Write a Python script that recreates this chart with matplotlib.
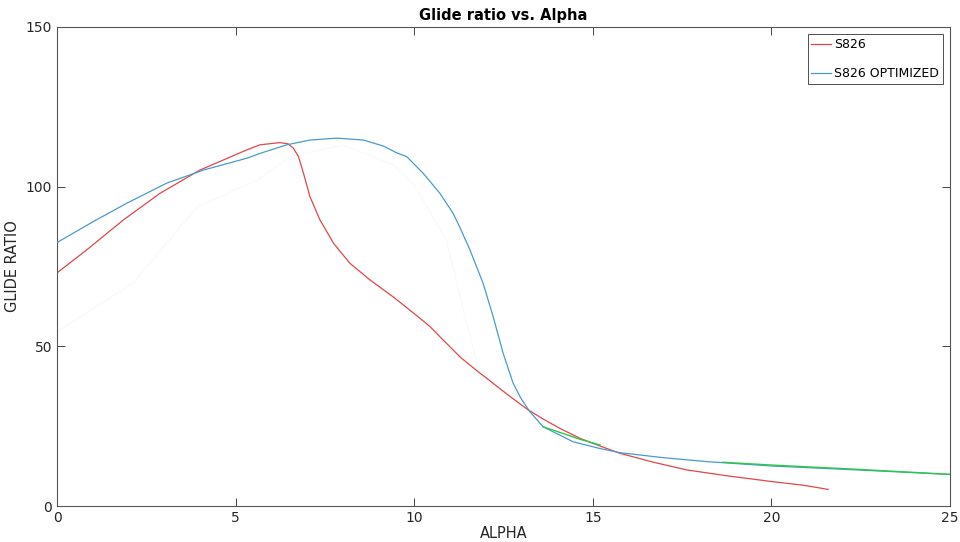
import matplotlib.pyplot as plt
import numpy as np

# S826 glide ratio vs angle of attack
alpha_s826 = [0, 0.83, 1.86, 2.88, 4.0, 5.31, 5.68, 6.24, 6.47, 6.62, 6.76, 6.9, 7.08, 7.36,
              7.74, 8.2, 8.76, 9.41, 10.16, 10.44, 10.72, 11.3, 11.84, 12.03, 12.6, 13.19,
              13.6, 14.08, 14.64, 15.2, 15.76, 16.7, 17.63, 18.8, 20.05, 20.9, 21.59]
glide_s826 = [73.0, 80.2, 89.6, 97.9, 105.2, 111.5, 113.1, 113.8, 113.4, 112.0, 109.4, 104.2,
              96.9, 89.6, 82.3, 76.0, 70.8, 65.5, 58.8, 56.2, 53.0, 46.5, 41.6, 40.0, 35.0,
              30.1, 27.3, 24.3, 21.2, 18.8, 16.5, 13.7, 11.3, 9.4, 7.6, 6.5, 5.2]

# S826 OPTIMIZED
alpha_opt = [0, 1.02, 1.95, 3.07, 4.1, 5.31, 5.68, 6.43, 7.08, 7.83, 8.58, 9.14, 9.51, 9.79,
             10.25, 10.72, 11.09, 11.28, 11.56, 11.93, 12.21, 12.49, 12.77, 13.0, 13.24,
             13.61, 14.45, 15.2, 15.76, 17.0, 18.19, 20.05, 22.39, 25.0]
glide_opt = [82.5, 89.1, 94.8, 101.1, 105.2, 108.9, 110.4, 113.1, 114.6, 115.2, 114.6, 112.7,
             110.6, 109.4, 104.2, 97.9, 91.6, 87.2, 80.2, 69.7, 59.3, 47.8, 38.4, 33.5, 29.5,
             24.8, 20.1, 18.0, 16.7, 15.1, 13.9, 12.5, 11.3, 9.9]

# third run, nearly hidden except for the green tail
alpha_ref = [0, 2.13, 3.92, 5.6, 6.52, 8.0, 9.4, 9.97, 10.9, 11.47, 11.84, 12.03, 12.6, 13.2,
             13.61, 14.2, 14.64, 15.2, 16.0, 17.3, 18.64, 20.05, 22.39, 25.0]
glide_ref = [54.6, 69.8, 93.7, 102.0, 109.4, 113.0, 107.0, 101.0, 83.3, 57.2, 41.6, 40.0, 35.0,
             30.0, 24.8, 22.6, 20.9, 19.1, 17.3, 15.3, 13.7, 12.8, 11.5, 9.9]
green_from = 13.6

fig = plt.figure(figsize=(9.6, 5.42), dpi=100)
ax = fig.add_axes([0.0594, 0.0664, 0.9302, 0.8838])

ref_x = np.array(alpha_ref)
ref_y = np.array(glide_ref)
ax.plot(ref_x, ref_y, color='#f8fbf6', lw=1.0, zorder=1)

l1, = ax.plot(alpha_s826, glide_s826, color='#e0474a', lw=0.9, label='S826', zorder=2)
l2, = ax.plot(alpha_opt, glide_opt, color='#4a9bcb', lw=0.9, label='S826 OPTIMIZED', zorder=3)

# green part of the third run, with a gap where it sits under the others
tail_y = np.where((ref_x >= green_from) & ((ref_x <= 15.2) | (ref_x >= 18.6)), ref_y, np.nan)
ax.plot(ref_x, tail_y, color='#2fc84a', lw=1.0, zorder=4)

ax.set_xlim(0, 25)
ax.set_ylim(0, 150)
ax.set_xticks([0, 5, 10, 15, 20, 25])
ax.set_yticks([0, 50, 100, 150])

grey = '#262626'
ax.tick_params(direction='in', top=True, right=True, length=6, width=0.6,
               colors=grey, labelsize=10, labelcolor=grey)
for s in ax.spines.values():
    s.set_color('#555555')
    s.set_linewidth(0.8)

ax.set_title('Glide ratio vs. Alpha', fontsize=10.5, fontweight='bold', color='black', pad=5)
ax.set_xlabel('ALPHA', fontsize=10.5, color=grey, labelpad=1)
ax.set_ylabel('GLIDE RATIO', fontsize=10.5, color=grey, labelpad=4)

leg = ax.legend(handles=[l1, l2], loc='upper right', fontsize=9, labelspacing=1.3,
                handlelength=1.6, handletextpad=0.2, borderpad=0.3, fancybox=False,
                borderaxespad=0.6, framealpha=1)
leg.get_frame().set_edgecolor('#333333')
leg.get_frame().set_linewidth(0.6)

plt.savefig('out.png', dpi=100)
